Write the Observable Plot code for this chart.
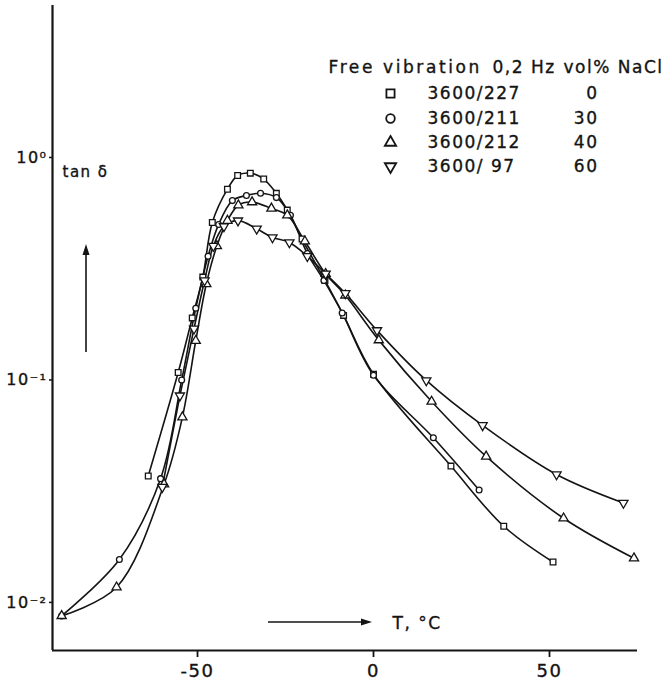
<!DOCTYPE html>
<html><head><meta charset="utf-8">
<script src="https://cdn.jsdelivr.net/npm/d3@7"></script>
<script src="https://cdn.jsdelivr.net/npm/@observablehq/plot@0.6"></script>
<style>
body{margin:0;background:#fff}
svg{display:block}
svg text{white-space:pre;letter-spacing:1.5px;stroke:#141414;stroke-width:0.35px}
</style>
</head><body><div id="chart"></div>
<script>
// ---- data ----
const seriesNames = ["3600/227", "3600/211", "3600/212", "3600/ 97"];
const naclVol = ["0", "30", "40", "60"];
const headerTexts = ["Free vibration", "0,2 Hz", "vol% NaCl"];

const sqT   = [-64, -55.5, -51.5, -48.5, -45.8, -41.5, -38.6, -35, -31.2, -27.6, -24.5, -20.3, -13.8, -8.5, 0, 22, 37, 51];
const sqTan = [0.037, 0.108, 0.19, 0.29, 0.51, 0.72, 0.83, 0.85, 0.80, 0.69, 0.58, 0.43, 0.28, 0.195, 0.106, 0.041, 0.022, 0.0152];

const ciT   = [-88.6, -72.2, -60.5, -54.5, -50.5, -47, -44, -40.1, -36.1, -32.1, -27.6, -23.6, -18.8, -14.1, -8.9, 0, 17, 30];
const ciTan = [0.0087, 0.0156, 0.036, 0.10, 0.21, 0.36, 0.50, 0.64, 0.675, 0.69, 0.66, 0.55, 0.37, 0.28, 0.20, 0.105, 0.055, 0.032];

const trT   = [-88.6, -73, -59.5, -54.3, -50.5, -47.5, -44.5, -41.5, -38.4, -34.5, -29, -24.5, -19.5, -13.6, -8, 1.5, 16.5, 32, 54, 74];
const trTan = [0.0087, 0.0117, 0.034, 0.068, 0.15, 0.27, 0.40, 0.52, 0.61, 0.63, 0.59, 0.55, 0.42, 0.30, 0.24, 0.151, 0.080, 0.0453, 0.0239, 0.0158];

const tdT   = [-60, -55, -51, -48, -45.5, -42.5, -38.5, -33.2, -28.7, -23.9, -18.8, -13.6, -8, 1, 15, 31, 52, 71];
const tdTan = [0.033, 0.085, 0.17, 0.28, 0.40, 0.49, 0.52, 0.478, 0.437, 0.415, 0.36, 0.30, 0.245, 0.167, 0.0995, 0.0625, 0.0376, 0.028];

const xTicks = [-50, 0, 50];
const xTickLabels = ["-50", "0", "50"];
const yTicks = [0.01, 0.1, 1];
const yTickLabels = ["10\u207B\u00B2", "10\u207B\u00B9", "10\u2070"];
const xLabel = "T, \u00B0C";
const yLabel = "tan \u03B4";

// ---- layout ----
const W = 666, H = 691;
const mL = 52, mR = 29, mT = 5, mB = 41;
const xDomain = [-91.2, 75];
const yDomain = [0.00608, 4.82];

const triDown = {
  draw(context, size) {
    const y = -Math.sqrt(size / (Math.sqrt(3) * 3));
    context.moveTo(0, -y * 2);
    context.lineTo(-Math.sqrt(3) * y, y);
    context.lineTo(Math.sqrt(3) * y, y);
    context.closePath();
  }
};

const series = [
  {name: seriesNames[0], T: sqT, tan: sqTan, symbol: "square", r: 3.2, lr: 4.6},
  {name: seriesNames[1], T: ciT, tan: ciTan, symbol: "circle", r: 2.9, lr: 4.3},
  {name: seriesNames[2], T: trT, tan: trTan, symbol: "triangle", r: 3.4, lr: 4.2},
  {name: seriesNames[3], T: tdT, tan: tdTan, symbol: triDown, r: 3.4, lr: 4.2}
];
const rows = series.flatMap(s => s.T.map((t, i) => ({name: s.name, T: t, tan: s.tan[i]})));

const ink = "#141414";
const font = "DejaVu Sans, Liberation Sans, sans-serif";
const txt = {frameAnchor: "top-left", lineAnchor: "middle", fill: ink};

const marks = [
  Plot.ruleX([xDomain[0]], {stroke: ink, strokeWidth: 2.2}),
  Plot.ruleY([yDomain[0]], {stroke: ink, strokeWidth: 2.2}),
  Plot.axisX({ticks: xTicks, tickFormat: d => xTickLabels[xTicks.indexOf(d)], tickSize: 7, tickPadding: 7,
    fontSize: 18, label: null, stroke: ink, strokeWidth: 1.8, fill: ink}),
  Plot.axisY({ticks: yTicks, tickFormat: d => yTickLabels[yTicks.indexOf(d)], tickSize: 3, tickPadding: 2,
    fontSize: 16, label: null, stroke: ink, strokeWidth: 1.5, fill: ink}),
  Plot.line(rows, {x: "T", y: "tan", z: "name", curve: "catmull-rom", stroke: ink, strokeWidth: 1.6}),
  ...series.map(s => Plot.dot(rows.filter(d => d.name === s.name),
    {x: "T", y: "tan", symbol: s.symbol, r: s.r, fill: "white", stroke: ink, strokeWidth: 1.3})),
  // axis captions
  Plot.text([yLabel], {...txt, dx: 62 - mL, dy: 172 - mT, textAnchor: "start", fontSize: 15}),
  Plot.text([xLabel], {...txt, dx: 392 - mL, dy: 623 - mT, textAnchor: "start", fontSize: 17}),
  // legend header
  Plot.text([headerTexts[0]], {...txt, dx: 328 - mL, dy: 67 - mT, textAnchor: "start", fontSize: 17}),
  Plot.text([headerTexts[1]], {...txt, dx: 492 - mL, dy: 67 - mT, textAnchor: "start", fontSize: 17}),
  Plot.text([headerTexts[2]], {...txt, dx: 563 - mL, dy: 67 - mT, textAnchor: "start", fontSize: 17})
];
const legRowY = [93, 118, 142, 166];
series.forEach((s, i) => {
  const dy = legRowY[i] - mT;
  marks.push(Plot.dot([s.name], {frameAnchor: "top-left", dx: 390 - mL, dy, symbol: s.symbol, r: s.lr,
    fill: "white", stroke: ink, strokeWidth: 1.8}));
  marks.push(Plot.text([s.name], {...txt, dx: 427 - mL, dy, text: d => d, textAnchor: "start", fontSize: 17}));
  marks.push(Plot.text([naclVol[i]], {...txt, dx: 598 - mL, dy, text: d => d, textAnchor: "end", fontSize: 17}));
});

const chart = Plot.plot({
  width: W, height: H,
  marginLeft: mL, marginRight: mR, marginTop: mT, marginBottom: mB,
  x: {domain: xDomain},
  y: {type: "log", domain: yDomain},
  style: {fontFamily: font, background: "white", color: ink, overflow: "visible"},
  marks
});
document.getElementById("chart").append(chart);

// decorative arrows next to the axis captions
const svg = d3.select(chart);
svg.selectAll("text").filter(function() { return this.textContent === headerTexts[0]; }).style("letter-spacing", "2.6px");
const ann = svg.append("g").attr("stroke", ink).attr("fill", ink);
ann.append("line").attr("x1", 86).attr("y1", 352).attr("x2", 86).attr("y2", 252).attr("stroke-width", 1.6);
ann.append("path").attr("d", "M86,244 L82.5,255 L89.5,255 Z").attr("stroke", "none");
ann.append("line").attr("x1", 268).attr("y1", 622).attr("x2", 362).attr("y2", 622).attr("stroke-width", 1.6);
ann.append("path").attr("d", "M372,622 L361,618.5 L361,625.5 Z").attr("stroke", "none");
</script>
</body></html>
